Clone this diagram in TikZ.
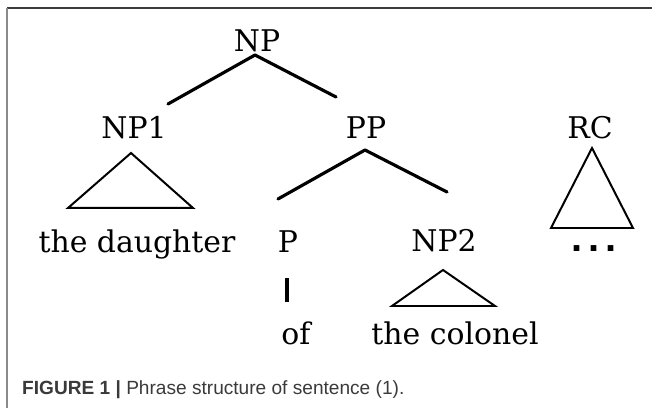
\documentclass[tikz,border=0pt]{standalone}
\usepackage{fontspec}
\newfontfamily\capfont{Liberation Sans}
\newfontfamily\treefont{DejaVu Serif}
\definecolor{framegray}{HTML}{3C3C3C}
\definecolor{sidegray}{HTML}{8A8A8A}
\definecolor{captext}{HTML}{3A3A3A}
\begin{document}
\begin{tikzpicture}
          [font=\treefont\fontsize{25.5}{30}\selectfont,
          cat/.style={anchor=base,inner sep=0pt},
          edge/.style={line width=2.7pt,line cap=round},
          tri/.style={line width=1.7pt,line join=miter},
          frame/.style={line width=1.7pt}]

          \useasboundingbox (0,0) rectangle (19.56,12.24);

          % frame
          \draw [frame,framegray] (0.21,12.0) -- (19.56,12.0);
          \draw [frame,sidegray] (0.21,12.0) -- (0.21,0);

            \node (NP) [cat] at (7.71,10.68) {NP};
            \node (NP1) [cat] at (4.02,8.07) {NP1};
            \node (PP) [cat] at (10.98,8.07) {PP};
            \node (RC) [cat] at (17.70,8.07) {RC};
            \node (dau) [cat] at (4.11,4.65) {the daughter};
            \node (P) [cat] at (8.64,4.65) {P};
            \node (NP2) [cat] at (13.32,4.68) {NP2};
            \node (of) [cat] at (8.88,1.89) {of};
            \node (col) [cat] at (13.65,1.89) {the colonel};
            \node (dots) [cat] at (17.82,4.70)
              {\capfont\bfseries\fontsize{34}{36}\selectfont .\hspace{5pt}.\hspace{5pt}.};

          \coordinate (NPa) at (7.65,10.59);
          \coordinate (NP1e) at (5.04,9.12);
          \coordinate (PPe) at (10.08,9.33);
          \coordinate (PPa) at (10.95,7.74);
          \coordinate (Pe) at (8.34,6.27);
          \coordinate (NP2e) at (13.41,6.48);
          \coordinate (Pb) at (8.61,3.90);
          \coordinate (ofe) at (8.61,3.18);

          \draw [edge] (NPa) -- (NP1e);
          \draw [edge] (NPa) -- (PPe);
          \draw [edge] (PPa) -- (Pe);
          \draw [edge] (PPa) -- (NP2e);
          \draw [edge,line cap=butt] (Pb) -- (ofe);

          % triangles
          \draw [tri] (3.93,7.65) -- (2.04,6.00) -- (5.79,6.00) -- cycle;
          \draw [tri] (17.76,7.80) -- (16.53,5.40) -- (18.99,5.40) -- cycle;
          \draw [tri] (13.29,4.14) -- (11.76,3.06) -- (14.85,3.06) -- cycle;

          \node (cap) [anchor=base west,inner sep=0pt,text=captext,
            font=\capfont\fontsize{16.3}{18}\selectfont] at (0.66,0.39)
            {\textbf{FIGURE 1 |} Phrase structure of sentence (1).};

        \end{tikzpicture}
\end{document}
